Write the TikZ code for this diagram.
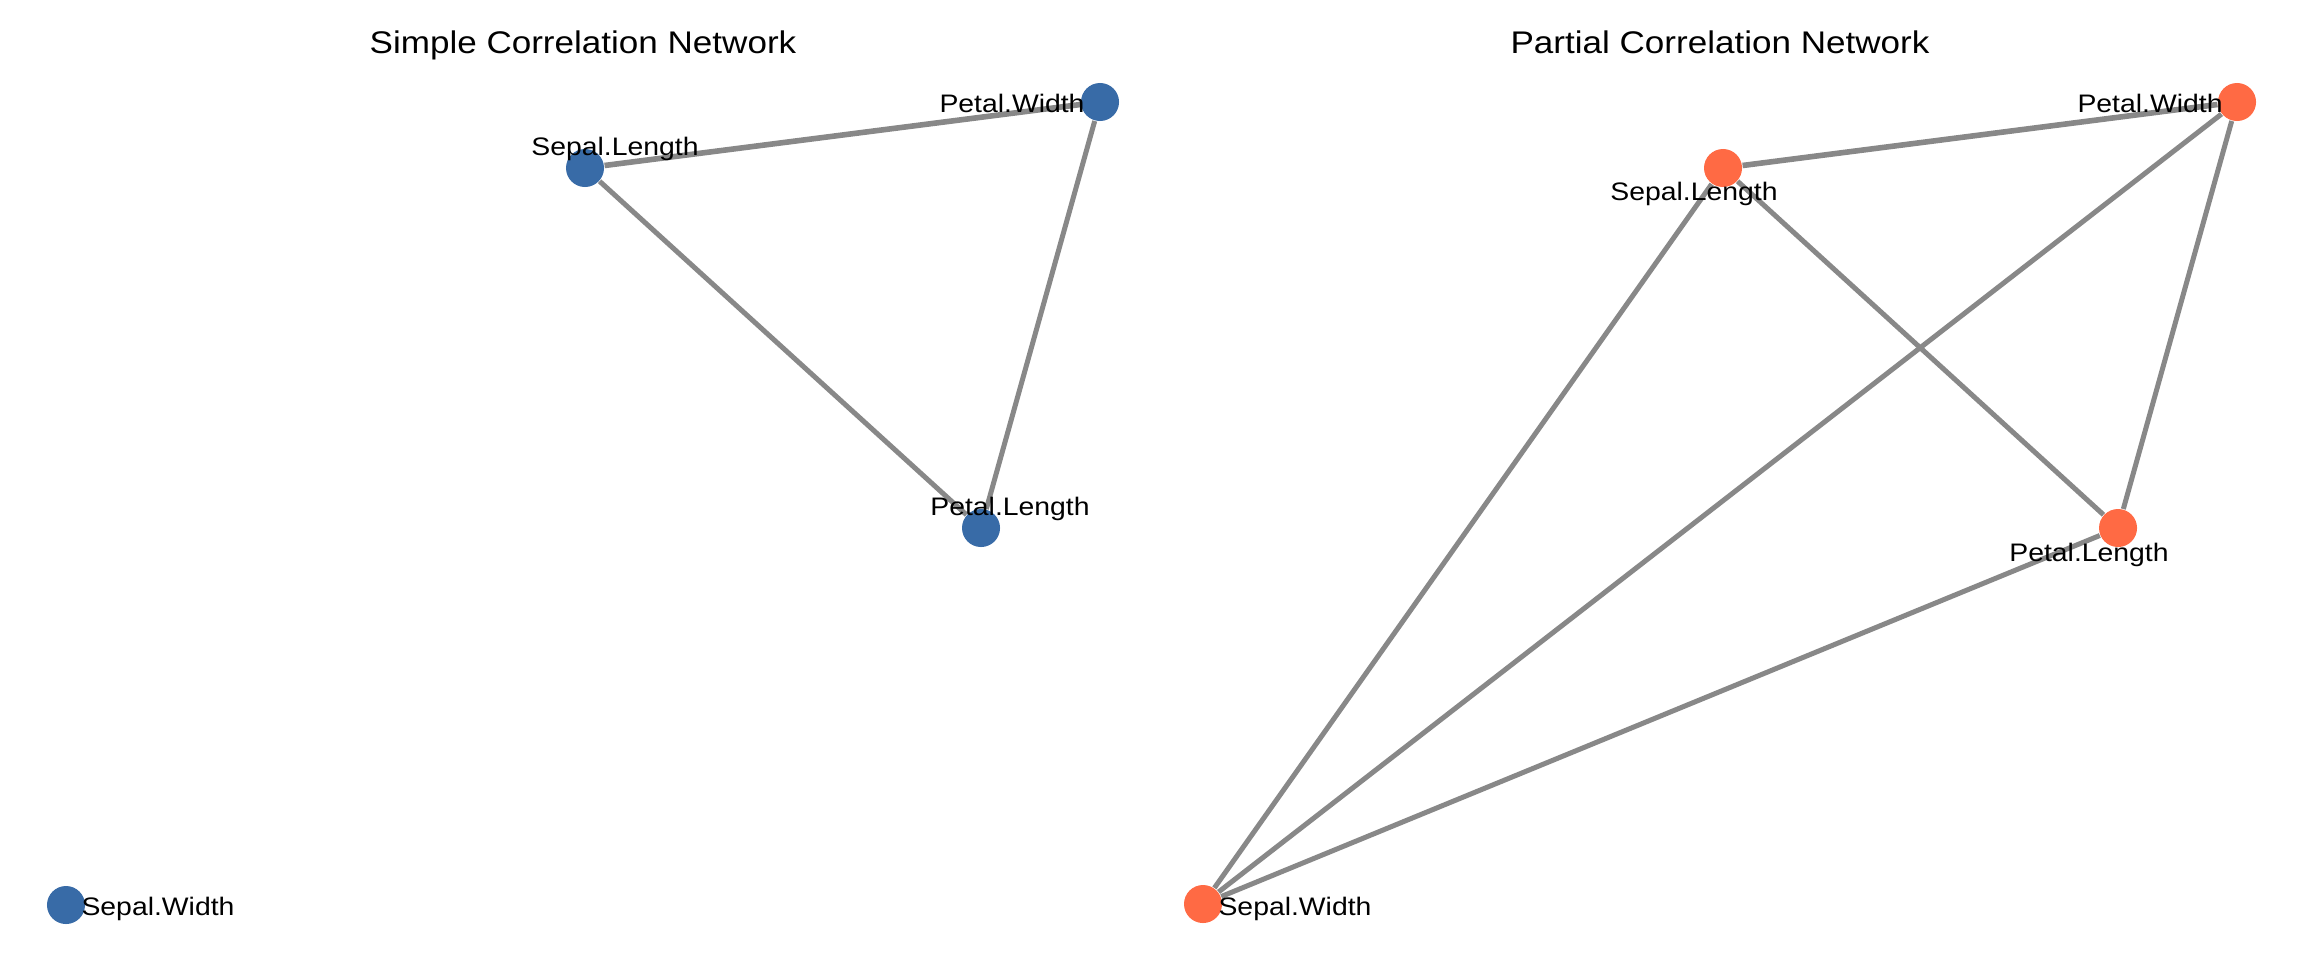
\documentclass[tikz,border=0pt]{standalone}
\usepackage{fontspec}
\setmainfont[FakeStretch=1.12]{Liberation Sans}
\usetikzlibrary{backgrounds}
\definecolor{nodeblue}{HTML}{386BA7}
\definecolor{nodeorange}{HTML}{FF6A44}
\definecolor{edgegray}{HTML}{888888}
\begin{document}
\begin{tikzpicture}[x=0.01cm,y=-0.01cm,
  vert/.style={circle,inner sep=0pt,minimum size=0.38cm},
  bluev/.style={vert,fill=nodeblue},
  orangev/.style={vert,fill=nodeorange},
  lbl/.style={font=\fontsize{7.2pt}{8pt}\selectfont,anchor=base,inner sep=0pt},
  ttl/.style={font=\fontsize{8.9pt}{10pt}\selectfont,anchor=base,inner sep=0pt},
  link/.style={draw=edgegray,line width=0.05cm},
  thicklink/.style={draw=edgegray,line width=0.056cm}]
\useasboundingbox (0,0) rectangle (2304,960);
% titles
\node[ttl] (t1) at (583,53) {Simple Correlation Network};
\node[ttl] (t2) at (1720,53) {Partial Correlation Network};
% left network vertices
\node[bluev] (aSL) at (585,168) {};
\node[bluev] (aPW) at (1100,102) {};
\node[bluev] (aPL) at (981,528) {};
\node[bluev] (aSW) at (66,905) {};
% right network vertices
\node[orangev] (bSL) at (1723,168) {};
\node[orangev] (bPW) at (2237,102) {};
\node[orangev] (bPL) at (2118,528) {};
\node[orangev] (bSW) at (1203,904) {};
% edges
\begin{scope}[on background layer]
\fill[white] (0,0) rectangle (2304,960);
\draw[thicklink] (aSL) -- (aPW);
\draw[link] (aSL) -- (aPL);
\draw[link] (aPW) -- (aPL);
\draw[thicklink] (bSL) -- (bPW);
\draw[link] (bSL) -- (bPL);
\draw[link] (bSL) -- (bSW);
\draw[link] (bPW) -- (bSW);
\draw[link] (bPW) -- (bPL);
\draw[link] (bPL) -- (bSW);
\end{scope}
% labels
\node[lbl] (laSL) at (615,155) {Sepal.Length};
\node[lbl] (laPW) at (1012,112) {Petal.Width};
\node[lbl] (laPL) at (1010,515) {Petal.Length};
\node[lbl] (laSW) at (158,915) {Sepal.Width};
\node[lbl] (lbSL) at (1694,200) {Sepal.Length};
\node[lbl] (lbPW) at (2150,112) {Petal.Width};
\node[lbl] (lbPL) at (2089,561) {Petal.Length};
\node[lbl] (lbSW) at (1295,915) {Sepal.Width};
\end{tikzpicture}
\end{document}
